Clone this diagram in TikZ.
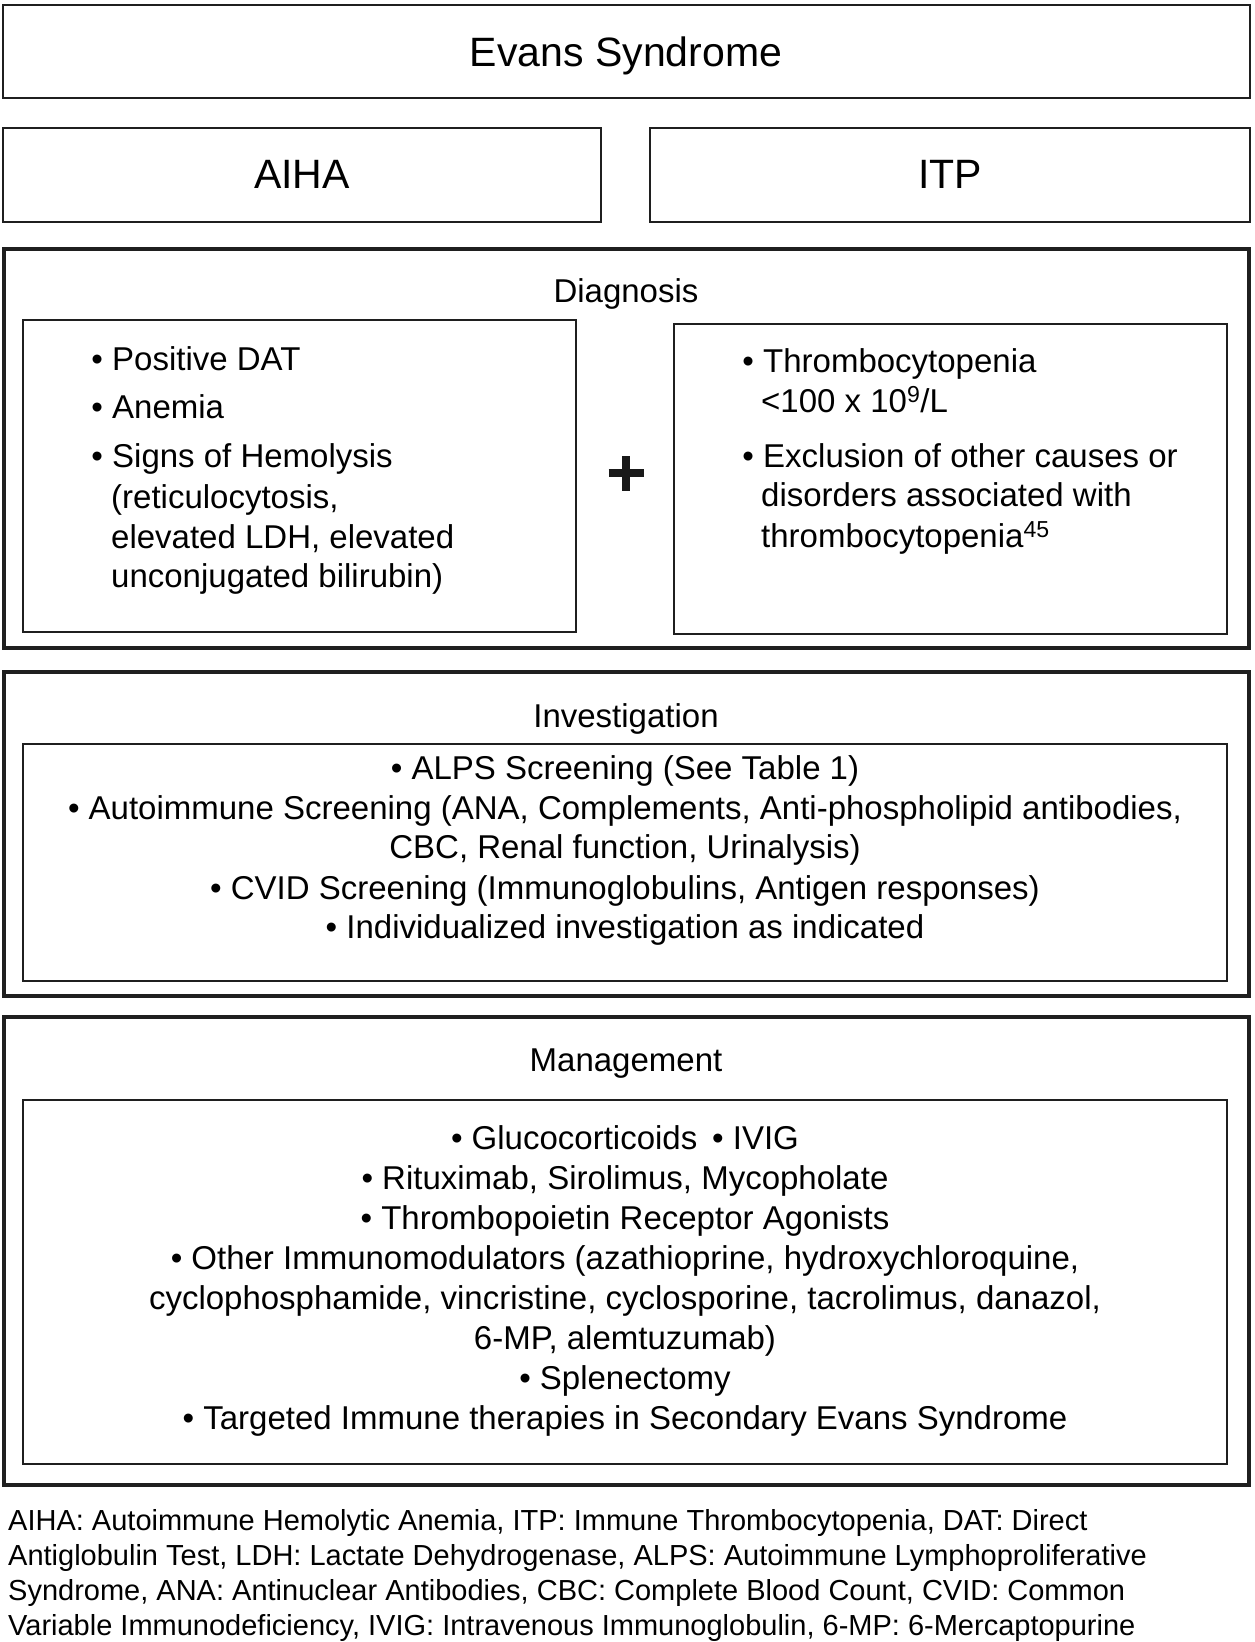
\documentclass[tikz,border=0pt]{standalone}
\usepackage{fontspec}
\setmainfont{Liberation Sans}
\begin{document}
\begin{tikzpicture}[x=1pt,y=-1pt,
  thinbox/.style={draw=black!88, line width=2.3pt, inner sep=0pt},
  thickbox/.style={draw=black!88, line width=3.8pt, inner sep=0pt},
  ttl/.style={inner sep=0pt, anchor=base, font=\fontsize{41}{48}\selectfont},
  ctxt/.style={inner sep=0pt, anchor=base, font=\fontsize{33}{40}\selectfont},
  ltxt/.style={inner sep=0pt, anchor=base west, font=\fontsize{33}{40}\selectfont},
  foot/.style={inner sep=0pt, anchor=base west, font=\fontsize{29}{35}\selectfont},
  plusbar/.style={line width=8pt, black!90}
]
\useasboundingbox (0,0) rectangle (1254,1642);
\fill[white] (0,0) rectangle (1254,1642);

% top boxes
\node[thinbox, minimum width=1247pt, minimum height=93pt] (evans) at (626.5,51.5) {};
\node[ttl] (evanst) at (626,66) {Evans Syndrome};
\node[thinbox, minimum width=598pt, minimum height=94pt] (aiha) at (302,175) {};
\node[ttl] (aihat) at (302,188) {AIHA};
\node[thinbox, minimum width=600pt, minimum height=94pt] (itp) at (950,175) {};
\node[ttl] (itpt) at (950,188) {ITP};

% Diagnosis
\node[thickbox, minimum width=1245pt, minimum height=399pt] (diag) at (626.5,448.5) {};
\node[ctxt] (diagt) at (626,302) {Diagnosis};
\node[thinbox, minimum width=553pt, minimum height=312pt] (diagL) at (299.5,476) {};
\node[thinbox, minimum width=553pt, minimum height=310pt] (diagR) at (950.5,479) {};

\node[ltxt] (l1) at (112,370) {\llap{• }Positive DAT};
\node[ltxt] (l2) at (112,418) {\llap{• }Anemia};
\node[ltxt] (l3) at (112,467) {\llap{• }Signs of Hemolysis};
\node[ltxt] (l4) at (111,508) {(reticulocytosis,};
\node[ltxt] (l5) at (111,548) {elevated LDH, elevated};
\node[ltxt] (l6) at (111,587) {unconjugated bilirubin)};

\node[ltxt] (r1) at (763,372) {\llap{• }Thrombocytopenia};
\node[ltxt] (r2) at (761,412) {<100 x 10\textsuperscript{9}/L};
\node[ltxt] (r3) at (763,467) {\llap{• }Exclusion of other causes or};
\node[ltxt] (r4) at (761,506) {disorders associated with};
\node[ltxt] (r5) at (761,547) {thrombocytopenia\textsuperscript{45}};

\coordinate (plusc) at (626,473);
\draw[plusbar] ([xshift=-17.5pt]plusc) -- ([xshift=17.5pt]plusc);
\draw[plusbar] ([yshift=-17.5pt]plusc) -- ([yshift=17.5pt]plusc);

% Investigation
\node[thickbox, minimum width=1245pt, minimum height=324pt] (inv) at (626.5,834) {};
\node[ctxt] (invt) at (626,727) {Investigation};
\node[thinbox, minimum width=1204pt, minimum height=237pt] (invIn) at (625,862.5) {};
\node[ctxt] (i1) at (625,779) {• ALPS Screening (See Table 1)};
\node[ctxt] (i2) at (625,819) {• Autoimmune Screening (ANA, Complements, Anti-phospholipid antibodies,};
\node[ctxt] (i3) at (625,858) {CBC, Renal function, Urinalysis)};
\node[ctxt] (i4) at (625,899) {• CVID Screening (Immunoglobulins, Antigen responses)};
\node[ctxt] (i5) at (625,938) {• Individualized investigation as indicated};

% Management
\node[thickbox, minimum width=1245pt, minimum height=468pt] (mgmt) at (626.5,1251) {};
\node[ctxt] (mgmtt) at (626,1071) {Management};
\node[thinbox, minimum width=1204pt, minimum height=364pt] (mgmtIn) at (625,1282) {};
\node[ctxt] (m1) at (625,1149) {• Glucocorticoids\hspace{0.45em}• IVIG};
\node[ctxt] (m2) at (625,1189) {• Rituximab, Sirolimus, Mycopholate};
\node[ctxt] (m3) at (625,1229) {• Thrombopoietin Receptor Agonists};
\node[ctxt] (m4) at (625,1269) {• Other Immunomodulators (azathioprine, hydroxychloroquine,};
\node[ctxt] (m5) at (625,1309) {cyclophosphamide, vincristine, cyclosporine, tacrolimus, danazol,};
\node[ctxt] (m6) at (625,1349) {6-MP, alemtuzumab)};
\node[ctxt] (m7) at (625,1389) {• Splenectomy};
\node[ctxt] (m8) at (625,1429) {• Targeted Immune therapies in Secondary Evans Syndrome};

% footnote
\node[foot] (f1) at (8,1530) {AIHA: Autoimmune Hemolytic Anemia, ITP: Immune Thrombocytopenia, DAT: Direct};
\node[foot] (f2) at (8,1565) {Antiglobulin Test, LDH: Lactate Dehydrogenase, ALPS: Autoimmune Lymphoproliferative};
\node[foot] (f3) at (8,1600) {Syndrome, ANA: Antinuclear Antibodies, CBC: Complete Blood Count, CVID: Common};
\node[foot] (f4) at (8,1635) {Variable Immunodeficiency, IVIG: Intravenous Immunoglobulin, 6-MP: 6-Mercaptopurine};
\end{tikzpicture}
\end{document}
